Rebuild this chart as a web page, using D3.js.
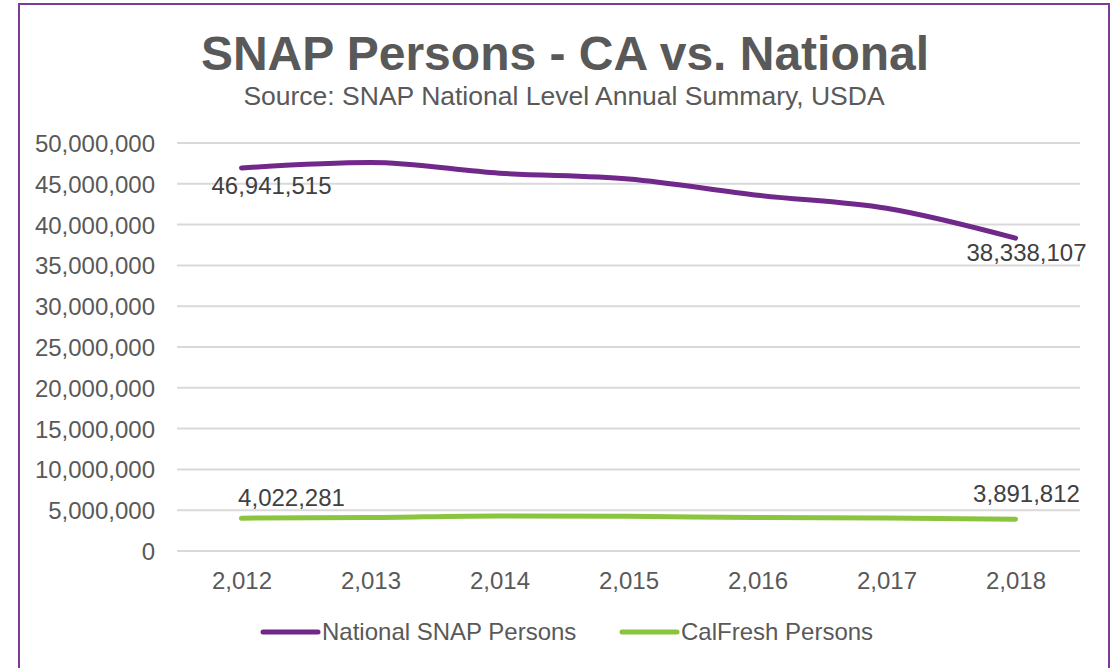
<!DOCTYPE html>
<html>
<head>
<meta charset="utf-8">
<script src="https://cdn.jsdelivr.net/npm/d3@7"></script>
<style>
    html, body { margin: 0; padding: 0; background: #fff; }
    svg { display: block; font-family: "Liberation Sans", Arial, sans-serif; }
</style>
</head>
<body>
<svg id="chart" width="1119" height="668"></svg>
<script>
// Data
const years = [2012, 2013, 2014, 2015, 2016, 2017, 2018];
const nationalPersons = [46941515, 47600000, 46300000, 45600000, 43600000, 42000000, 38338107];
const calfreshPersons = [4022281, 4100000, 4300000, 4250000, 4100000, 4050000, 3891812];
const yTicks = [0, 5000000, 10000000, 15000000, 20000000, 25000000, 30000000, 35000000, 40000000, 45000000, 50000000];
const seriesNames = ['National SNAP Persons', 'CalFresh Persons'];

const purple = '#70288A';
const green = '#8BC43F';
const textGrey = '#595959';

const svg = d3.select('#chart');
const fmt = d3.format(',');

// Frame
svg.append('rect')
    .attr('x', 19).attr('y', 4)
    .attr('width', 1090).attr('height', 680)
    .attr('fill', '#fff')
    .attr('stroke', '#7B3C96')
    .attr('stroke-width', 2);

// Titles
svg.append('text')
    .attr('x', 565).attr('y', 70)
    .attr('text-anchor', 'middle')
    .attr('font-size', 48).attr('font-weight', 'bold')
    .attr('fill', textGrey)
    .text('SNAP Persons - CA vs. National');

svg.append('text')
    .attr('x', 564).attr('y', 105)
    .attr('text-anchor', 'middle')
    .attr('font-size', 26.5)
    .attr('fill', textGrey)
    .text('Source: SNAP National Level Annual Summary, USDA');

// Scales
const x = d3.scalePoint().domain(years).range([177, 1080]).padding(0.5);
const y = d3.scaleLinear().domain([0, 50000000]).range([551, 143]);

// Gridlines + y axis
const yAxis = d3.axisLeft(y).tickValues(yTicks).tickFormat(fmt).tickSize(0).tickPadding(22);
const yG = svg.append('g').attr('transform', 'translate(177,0)').call(yAxis);
yG.select('.domain').remove();
yG.selectAll('text')
    .attr('font-size', 24).attr('font-family', '"Liberation Sans", Arial, sans-serif')
    .attr('fill', textGrey).attr('dy', '0.35em');

svg.append('g').selectAll('line')
    .data(yTicks)
    .enter().append('line')
    .attr('x1', 177).attr('x2', 1080)
    .attr('y1', d => y(d)).attr('y2', d => y(d))
    .attr('stroke', '#D9D9D9').attr('stroke-width', 2);

// x axis labels
const xAxis = d3.axisBottom(x).tickFormat(fmt).tickSize(0).tickPadding(21);
const xG = svg.append('g').attr('transform', 'translate(0,551)').call(xAxis);
xG.select('.domain').remove();
xG.selectAll('text')
    .attr('font-size', 24).attr('font-family', '"Liberation Sans", Arial, sans-serif')
    .attr('fill', textGrey);

// Lines (Excel-style smoothing)
const line = d3.line()
    .x((d, i) => x(years[i]))
    .y(d => y(d))
    .curve(d3.curveMonotoneX);

[[nationalPersons, purple], [calfreshPersons, green]].forEach(([values, color]) => {
    svg.append('path')
        .datum(values)
        .attr('d', line)
        .attr('fill', 'none')
        .attr('stroke', color)
        .attr('stroke-width', 5)
        .attr('stroke-linecap', 'round')
        .attr('stroke-linejoin', 'round');
});

// Data labels at first and last point
const last = years.length - 1;
const labels = [
    { v: nationalPersons[0], xi: 0, dx: 30, dy: 26 },
    { v: nationalPersons[last], xi: last, dx: 11, dy: 23 },
    { v: calfreshPersons[0], xi: 0, dx: 50, dy: -12 },
    { v: calfreshPersons[last], xi: last, dx: 11, dy: -17 }
];
svg.append('g').selectAll('text')
    .data(labels)
    .enter().append('text')
    .attr('x', d => x(years[d.xi]) + d.dx)
    .attr('y', d => y(d.v) + d.dy)
    .attr('text-anchor', 'middle')
    .attr('font-size', 24)
    .attr('fill', '#404040')
    .text(d => fmt(d.v));

// Legend
const legend = [
    { name: seriesNames[0], color: purple, x: 263 },
    { name: seriesNames[1], color: green, x: 622 }
];
const lg = svg.append('g').selectAll('g')
    .data(legend)
    .enter().append('g')
    .attr('transform', d => `translate(${d.x},632)`);
lg.append('line')
    .attr('x1', 0).attr('x2', 55)
    .attr('stroke', d => d.color)
    .attr('stroke-width', 5)
    .attr('stroke-linecap', 'round');
lg.append('text')
    .attr('x', 59).attr('dy', '0.35em')
    .attr('font-size', 24)
    .attr('fill', textGrey)
    .text(d => d.name);
</script>
</body>
</html>
